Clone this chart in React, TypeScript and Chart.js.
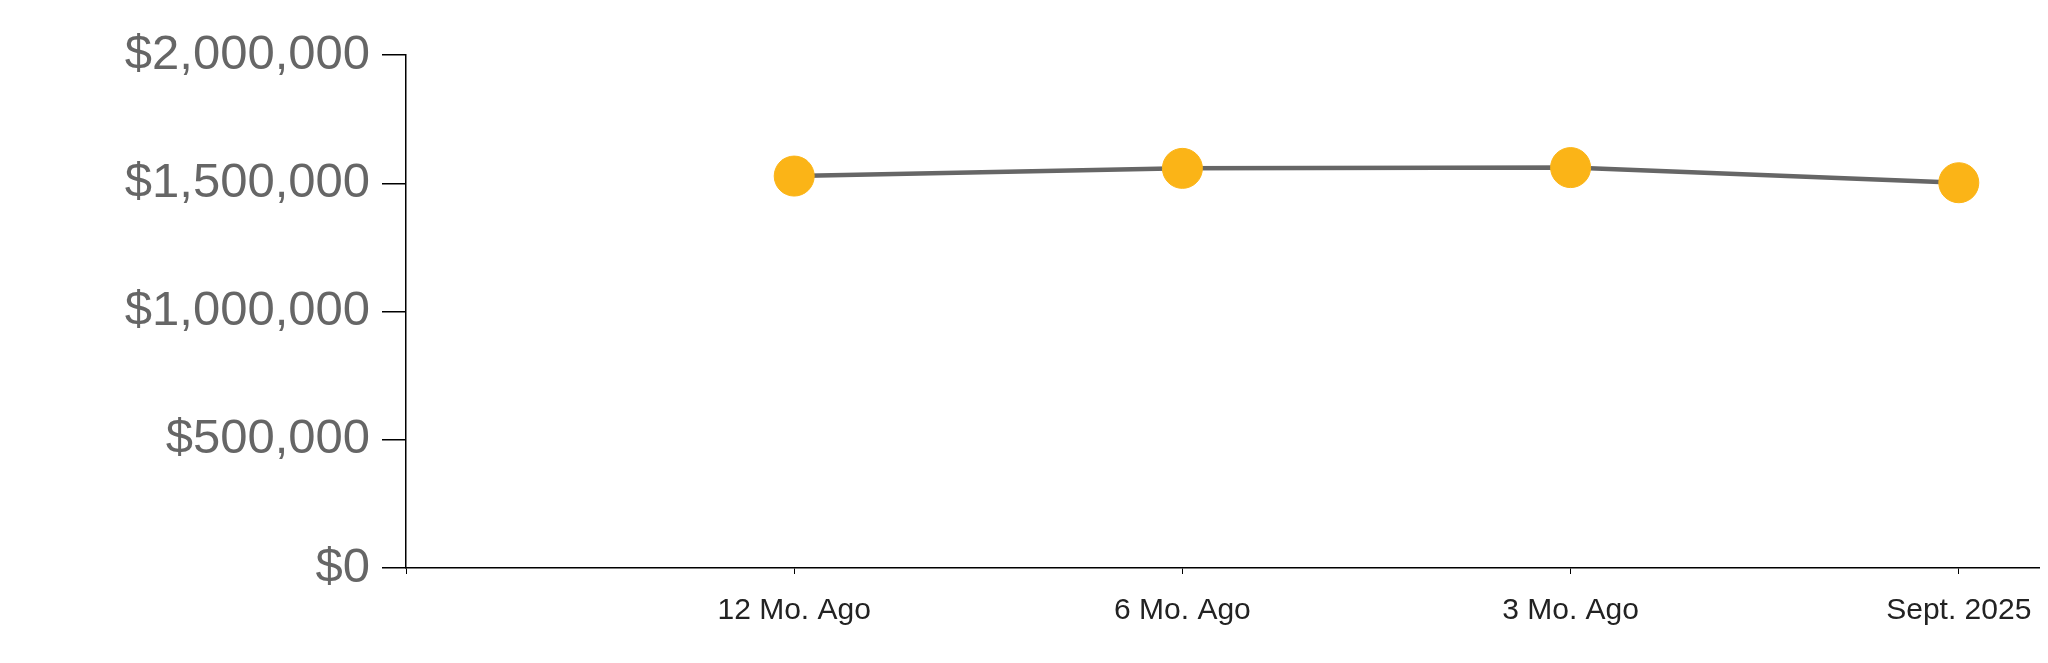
import React, { useEffect, useRef } from "react";
import { Chart, registerables } from "chart.js";

Chart.register(...registerables);

const categories: string[] = ["", "12 Mo. Ago", "6 Mo. Ago", "3 Mo. Ago", "Sept. 2025", ""];
const values: (number | null)[] = [null, 1528000, 1558000, 1561000, 1502000, null];
const yTicks: number[] = [0, 500000, 1000000, 1500000, 2000000];

export default function App() {
  const ref = useRef<HTMLCanvasElement | null>(null);
  useEffect(() => {
    if (!ref.current) return;
    const chart = new Chart(ref.current, {
      type: "line",
      data: {
        labels: categories,
        datasets: [
          {
            data: values,
            borderColor: "#666666",
            borderWidth: 4.5,
            pointBackgroundColor: "#FBB417",
            pointBorderColor: "#FBB417",
            pointRadius: 20,
            pointBorderWidth: 1,
            tension: 0,
            spanGaps: false,
          },
        ],
      },
      options: {
        responsive: false,
        animation: false,
        devicePixelRatio: 1,
        layout: { padding: { top: 47, right: 5, left: 0, bottom: 5 } },
        plugins: { legend: { display: false }, tooltip: { enabled: false } },
        scales: {
          x: {
            type: "category",
            offset: false,
            grid: { display: true, drawOnChartArea: false, drawTicks: true, tickLength: 6, color: "#000", lineWidth: 1 },
            border: { display: true, color: "#000", width: 1.5 },
            ticks: {
              autoSkip: false,
              maxRotation: 0,
              padding: 19,
              color: "#222222",
              font: { family: "Liberation Sans, Arial, sans-serif", size: 30 },
            },
            afterFit: (s: any) => {
              s.height = 80;
            },
          },
          y: {
            min: 0,
            max: 2000000,
            afterBuildTicks: (s: any) => {
              s.ticks = yTicks.map((v) => ({ value: v }));
            },
            grid: { display: true, drawOnChartArea: false, drawTicks: true, tickLength: 24, color: "#000", lineWidth: 1.5 },
            border: { display: true, color: "#000", width: 1.5 },
            ticks: {
              padding: 12,
              color: "#666666",
              font: { family: "Liberation Sans, Arial, sans-serif", size: 49 },
              callback: (v: any) => "$" + Number(v).toLocaleString("en-US"),
            },
            afterFit: (s: any) => {
              s.width = 398;
            },
          },
        },
      },
    });
    return () => chart.destroy();
  }, []);
  return (
    <div style={{ width: 2040, overflow: "hidden" }}>
      <canvas ref={ref} width={2360} height={645} style={{ display: "block" }} />
    </div>
  );
}
